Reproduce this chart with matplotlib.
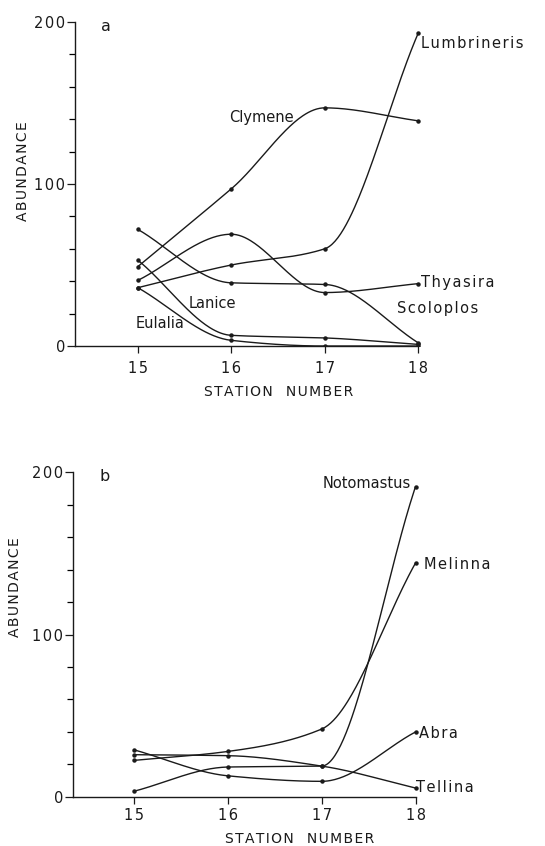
import numpy as np
import matplotlib.pyplot as plt
from matplotlib.ticker import MultipleLocator

stations = [15, 16, 17, 18]

# panel a
clymene = [49, 97, 147, 139]
lumbrineris = [36, 50, 60, 193]
thyasira = [40.5, 69, 33, 38.5]
scoloplos = [72, 39, 38, 2]
lanice = [53, 6.6, 5, 1]
eulalia = [36, 3.5, 0, 0]

# panel b
notomastus = [3.5, 18.4, 19, 191]
melinna = [22.5, 28, 41.8, 144]
abra = [29, 13, 9.6, 40]
tellina = [26, 25.4, 19, 5.5]

ink = '#1a1a1a'
hs = '\u200a'  # hair space, the original lettering is widely spaced


def spaced(s):
    return hs.join(s)


def pchip(x, y, xs):
    # monotone cubic (Fritsch-Carlson), keeps the hand-drawn look without overshoot
    x = np.asarray(x, float)
    y = np.asarray(y, float)
    h = np.diff(x)
    d = np.diff(y) / h
    m = np.zeros_like(y)
    for k in range(1, len(y) - 1):
        if d[k - 1] * d[k] > 0:
            w1 = 2 * h[k] + h[k - 1]
            w2 = h[k] + 2 * h[k - 1]
            m[k] = (w1 + w2) / (w1 / d[k - 1] + w2 / d[k])
    m[0] = d[0]
    m[-1] = d[-1]
    idx = np.clip(np.searchsorted(x, xs) - 1, 0, len(h) - 1)
    t = (xs - x[idx]) / h[idx]
    h00 = 2 * t**3 - 3 * t**2 + 1
    h10 = t**3 - 2 * t**2 + t
    h01 = -2 * t**3 + 3 * t**2
    h11 = t**3 - t**2
    return h00 * y[idx] + h10 * h[idx] * m[idx] + h01 * y[idx + 1] + h11 * h[idx] * m[idx + 1]


def curve(ax, vals):
    xs = np.linspace(stations[0], stations[-1], 200)
    ax.plot(xs, pchip(stations, vals, xs), color=ink, lw=1.0)
    ax.plot(stations, vals, 'o', color=ink, ms=2.2)


def style(ax, x0, letter, ylab_xy, xlab_xy, xpad):
    ax.set_xlim(x0, 19.2)
    ax.set_ylim(0, 200)
    for s in ['top', 'right']:
        ax.spines[s].set_visible(False)
    ax.spines['bottom'].set_bounds(x0, 18)
    ax.spines['left'].set_bounds(0, 200)
    for s in ['left', 'bottom']:
        ax.spines[s].set_linewidth(1.0)
        ax.spines[s].set_color(ink)
    ax.set_xticks(stations)
    ax.set_xticklabels([spaced(str(s)) for s in stations])
    ax.yaxis.set_minor_locator(MultipleLocator(20))
    ax.set_yticks([0, 100, 200])
    ax.set_yticklabels([spaced(str(v)) for v in [0, 100, 200]])
    ax.tick_params(axis='x', length=5, width=0.9, labelsize=10.5, pad=xpad, colors=ink)
    ax.tick_params(axis='y', which='major', length=6, width=0.9, labelsize=10.5, pad=1, colors=ink)
    ax.tick_params(axis='y', which='minor', length=4, width=0.9)
    ax.set_ylabel(spaced('ABUNDANCE'), fontsize=10, color=ink)
    ax.set_xlabel(spaced('STATION') + '   ' + spaced('NUMBER'), fontsize=10, color=ink)
    ax.yaxis.set_label_coords(*ylab_xy)
    ax.xaxis.set_label_coords(*xlab_xy)
    ax.text(x0 + 0.28, 197, letter, fontsize=11.5, color=ink, va='center')


fig = plt.figure(figsize=(5.45, 8.46), dpi=100)

ax1 = fig.add_axes([0.138, 0.591, 0.835, 0.383])
for v in [clymene, lumbrineris, thyasira, scoloplos, lanice, eulalia]:
    curve(ax1, v)
style(ax1, 14.33, 'a', (-0.1, 0.54), (0.448, -0.12), 6)
kw = dict(fontsize=10.5, color=ink, va='center', clip_on=False)
ax1.text(18.03, 187, spaced('Lumbrineris'), **kw)
ax1.text(15.98, 141, 'Clymene', **kw)
ax1.text(18.03, 39, spaced('Thyasira'), **kw)
ax1.text(17.77, 23, spaced('Scoloplos'), **kw)
ax1.text(15.54, 26.5, 'Lanice', **kw)
ax1.text(14.98, 14, 'Eulalia', **kw)

ax2 = fig.add_axes([0.134, 0.058, 0.835, 0.384])
for v in [notomastus, melinna, abra, tellina]:
    curve(ax2, v)
style(ax2, 14.35, 'b', (-0.112, 0.646), (0.499, -0.108), 3)
ax2.text(17.95, 193, 'Notomastus', ha='right', **kw)
ax2.text(18.09, 143, spaced('Melinna'), **kw)
ax2.text(18.04, 39, spaced('Abra'), **kw)
ax2.text(18.01, 6, spaced('Tellina'), **kw)

fig.savefig('out.png', dpi=100)
